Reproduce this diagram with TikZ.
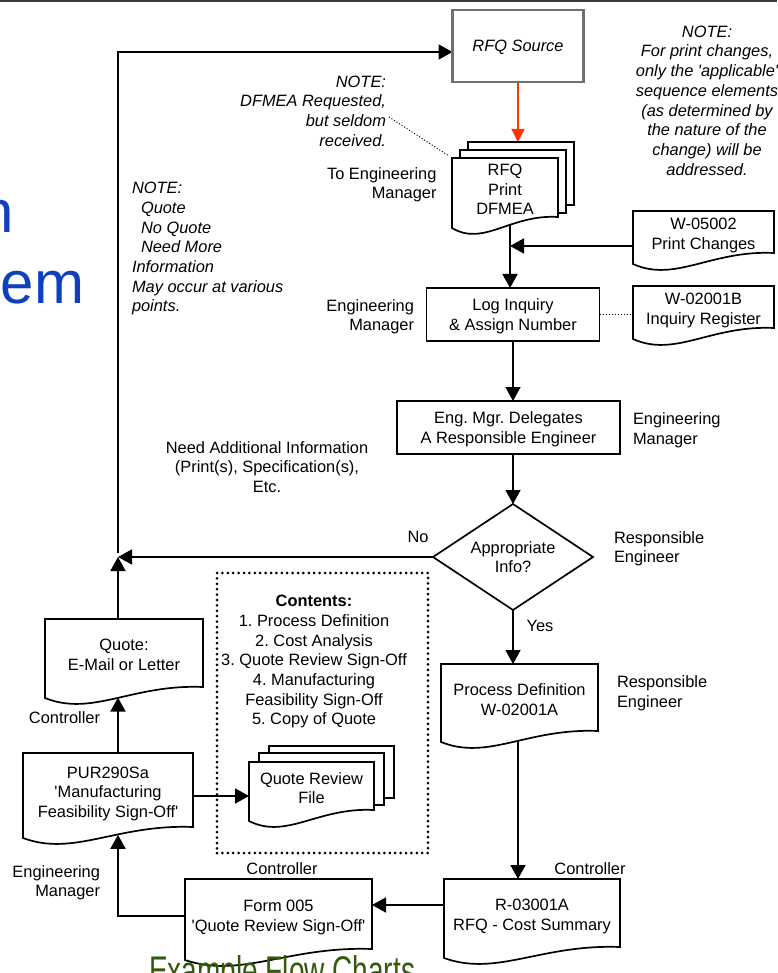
\documentclass[tikz,border=0pt]{standalone}
\usepackage{fontspec}
\setmainfont{Liberation Sans}
\usetikzlibrary{arrows.meta,calc}
\pgfdeclarelayer{lines}
\pgfdeclarelayer{shapes}
\pgfsetlayers{lines,shapes,main}
\definecolor{framegray}{RGB}{60,60,60}
\definecolor{srcgray}{RGB}{112,112,112}
\definecolor{flowred}{RGB}{255,51,0}
\definecolor{titleblue}{RGB}{16,64,190}
\definecolor{chartgreen}{RGB}{50,90,10}
\newcommand\fs{\fontsize{16.4}{19.7}\selectfont}
\newcommand\sq{\textquotesingle}
\frenchspacing
% document symbol: flat top, wavy bottom, drawn round a named node
\newcommand\docoutline[1]{%
  \draw[boxline, fill=white] (#1.north west) -- (#1.north east)
    -- ($(#1.south east)+(0,-4)$)
    .. controls ($(#1.south west)!0.55!(#1.south east)+(0,-7)$)
    and ($(#1.south west)!0.3!(#1.south east)+(0,26)$)
    .. ($(#1.south west)+(0,7)$) -- cycle;}
\newcommand\backpage[1]{%
  \draw[boxline, fill=white] (#1.north west) rectangle (#1.south east);}

\begin{document}
\begin{tikzpicture}[x=1pt,y=-1pt,
  every node/.style={inner sep=0pt, outer sep=0pt, font=\fs, text depth=0pt},
  boxline/.style={line width=1.7pt},
  doc/.style={align=center},
  note/.style={font=\fs\itshape},
  arr/.style={line width=1.7pt, -{Triangle[length=14pt,width=15pt]}},
  redarr/.style={flowred, line width=1.4pt, -{Triangle[length=13pt,width=13pt]}},
  thindot/.style={line width=1pt, dash pattern=on 1pt off 2pt},
  dotbox/.style={draw, line width=3pt, dash pattern=on 0pt off 5.4pt, line cap=round}]

\useasboundingbox (0,0) rectangle (777,973);
\draw[framegray, line width=2.2pt] (0,1) -- (777,1);

% slide title fragments
\node[anchor=base east, font=\fontsize{60}{72}\selectfont, text=titleblue] (t1) at (14,233) {n};
\node[anchor=base east, font=\fontsize{60}{72}\selectfont, text=titleblue] (t2) at (84,303) {em};

% process nodes
\node[draw=srcgray, line width=2.5pt, minimum width=131pt, minimum height=72pt, font=\fs\itshape] (src) at (518,46) {RFQ Source};
\node[doc, minimum width=106pt, minimum height=63pt] (rfq) at (505,189.5) {RFQ\\Print\\DFMEA};
\node[minimum width=106pt, minimum height=63pt] (rfqb2) at ($(rfq)+(8,-8)$) {};
\node[minimum width=106pt, minimum height=63pt] (rfqb3) at ($(rfq)+(16,-16)$) {};
\node[doc, minimum width=141pt, minimum height=46pt] (pc) at (703.5,234) {W-05002\\Print Changes};
\node[doc, minimum width=141pt, minimum height=46pt] (ir) at (703.5,309) {W-02001B\\Inquiry Register};
\node[draw, boxline, minimum width=173pt, minimum height=53pt, align=center] (log) at (513,314.5) {Log Inquiry\\\& Assign Number};
\node[draw, boxline, minimum width=223pt, minimum height=53pt, align=center] (eng) at (508.5,427.5) {Eng. Mgr. Delegates\\A Responsible Engineer};
\node[minimum width=160pt, minimum height=106pt, align=center] (dia) at (513,557) {Appropriate\\Info?};
\node[doc, minimum width=157pt, minimum height=71pt] (pd) at (519.5,699.5) {Process Definition\\W-02001A};
\node[doc, minimum width=176pt, minimum height=72pt] (cs) at (532,915) {R-03001A\\RFQ - Cost Summary};
\node[doc, minimum width=187pt, minimum height=74pt] (f5) at (278.5,916) {Form 005\\\sq Quote Review Sign-Off\sq};
\node[doc, minimum width=170pt, minimum height=78pt] (pur) at (108,792) {PUR290Sa\\\sq Manufacturing\\Feasibility Sign-Off\sq};
\node[doc, minimum width=125pt, minimum height=52pt] (qrf) at (311.5,788) {Quote Review\\File};
\node[minimum width=125pt, minimum height=52pt] (qrfb2) at ($(qrf)+(10,-9)$) {};
\node[minimum width=125pt, minimum height=52pt] (qrfb3) at ($(qrf)+(20,-16)$) {};
\node[doc, minimum width=158pt, minimum height=72pt] (qt) at (124,655) {Quote:\\E-Mail or Letter};
\node[dotbox, minimum width=211pt, minimum height=280pt] (cbox) at (322.5,713) {};
\node[align=center] (contents) at (314,660) {\textbf{Contents:}\\1. Process Definition\\2. Cost Analysis\\3. Quote Review Sign-Off\\4. Manufacturing\\Feasibility Sign-Off\\5. Copy of Quote};

% notes and role labels
\node[note, align=center] (note3) at (707,100.5) {NOTE:\\For print changes,\\only the \sq applicable\sq\\sequence elements\\(as determined by\\the nature of the\\change) will be\\addressed.};
\node[note, align=right, anchor=east] (note1) at (386,111) {NOTE:\\DFMEA Requested,\\but seldom\\received.};
\node[align=right, anchor=east] (toeng) at (436.5,183) {To Engineering\\Manager};
\node[note, align=left, anchor=west] (note2) at (132,247) {NOTE:\\\hspace*{9pt}Quote\\\hspace*{9pt}No Quote\\\hspace*{9pt}Need More\\Information\\May occur at various\\points.};
\node[align=right, anchor=east] (em1) at (414,315) {Engineering\\Manager};
\node[align=left, anchor=west] (em2) at (633,428.5) {Engineering\\Manager};
\node[align=center] (needinfo) at (267,467) {Need Additional Information\\(Print(s), Specification(s),\\Etc.};
\node[align=left, anchor=west] (re1) at (614,547) {Responsible\\Engineer};
\node[align=left, anchor=west] (re2) at (617,691.5) {Responsible\\Engineer};
\node (no) at (418,537) {No};
\node (yes) at (540,626) {Yes};
\node (ctrl1) at (64.5,718) {Controller};
\node (ctrl2) at (282,869) {Controller};
\node (ctrl3) at (590,869) {Controller};
\node[align=right, anchor=east] (em3) at (100,881) {Engineering\\Manager};

% outlines of the symbols
\begin{pgfonlayer}{shapes}
  \backpage{rfqb3}
  \backpage{rfqb2}
  \docoutline{rfq}
  \docoutline{pc}
  \docoutline{ir}
  \docoutline{pd}
  \docoutline{cs}
  \docoutline{f5}
  \docoutline{pur}
  \backpage{qrfb3}
  \backpage{qrfb2}
  \docoutline{qrf}
  \docoutline{qt}
  \draw[boxline, fill=white] (dia.north) -- (dia.east) -- (dia.south) -- (dia.west) -- cycle;
\end{pgfonlayer}

% connectors
\begin{pgfonlayer}{lines}
  \draw[redarr] (src.south) -- (src.south |- rfqb3.north);
  \coordinate (vtop) at ($(rfq.south)+(5,0)$);
  \draw[arr] (vtop) -- (vtop |- log.north);
  \coordinate (pcin) at ($(pc.west)+(0,12)$);
  \draw[arr] (pcin) -- (pcin -| vtop);
  \draw[thindot] (log.east) -- (log.east -| ir.west);
  \draw[thindot] ($(note3.south)+(0,4)$) -- ($(note3.south)+(0,4)$ |- pc.north);
  \draw[thindot] ($(note1.east)+(3,6)$) -- ($(rfq.north west)+(-3,-2)$);
  \draw[arr] (log.south) -- (log.south |- eng.north);
  \draw[arr] (dia.north |- eng.south) -- (dia.north);
  \coordinate (lx) at (118,0);
  \coordinate (join) at (lx |- dia.west);
  \draw[arr] (dia.west) -- (join);
  \draw[arr] (qt.north -| join) -- (join);
  \draw[arr] ($(join)+(0,-4)$) |- ($(src.west)+(0,6)$);
  \draw[arr] (dia.south) -- (dia.south |- pd.north);
  \coordinate (pdout) at ($(pd.south)+(-1.5,0)$);
  \draw[arr] (pdout) -- (pdout |- cs.north);
  \coordinate (csout) at ($(cs.west)+(0,-10)$);
  \draw[arr] (csout) -- (csout -| f5.east);
  \draw[arr] (f5.west) -| ($(pur.south)+(10,3.8)$);
  \draw[arr] ($(pur.north)+(10,0)$) -- ($(qt.south)+(-6,6.5)$);
  \coordinate (purout) at ($(pur.east)+(0,4)$);
  \draw[arr] (purout) -- (purout -| qrf.west);
\end{pgfonlayer}

\node[anchor=base west, font=\fontsize{40}{48}\selectfont, text=chartgreen, xscale=0.7] (caption) at (149,984) {Example Flow Charts};
\end{tikzpicture}
\end{document}
